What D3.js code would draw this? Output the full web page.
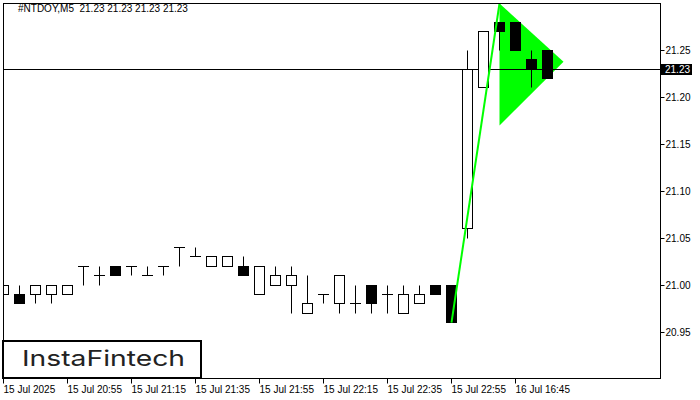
<!DOCTYPE html>
<html><head><meta charset="utf-8">
<script src="https://cdn.jsdelivr.net/npm/d3@7"></script>
<style>html,body{margin:0;padding:0;background:#fff;} svg{display:block;}</style>
</head><body>
<svg id="chart" width="700" height="400"></svg>
<script>
// ---------- data ----------
const chartTitle = "#NTDOY,M5  21.23 21.23 21.23 21.23";
const times = [
  "15 Jul 20:35","15 Jul 20:40","15 Jul 20:45","15 Jul 20:50","15 Jul 20:55","15 Jul 21:00",
  "15 Jul 21:05","15 Jul 21:10","15 Jul 21:15","15 Jul 21:20","15 Jul 21:25","15 Jul 21:30",
  "15 Jul 21:35","15 Jul 21:40","15 Jul 21:45","15 Jul 21:50","15 Jul 21:55","15 Jul 22:00",
  "15 Jul 22:05","15 Jul 22:10","15 Jul 22:15","15 Jul 22:20","15 Jul 22:25","15 Jul 22:30",
  "15 Jul 22:35","15 Jul 22:40","15 Jul 22:45","15 Jul 22:50","15 Jul 22:55","16 Jul 16:30",
  "16 Jul 16:35","16 Jul 16:40","16 Jul 16:45","16 Jul 16:50","16 Jul 16:55","16 Jul 17:00"
];
const opens  = [20.99,20.99,20.99,20.99,20.99,21.02,21.01,21.02,21.02,21.01,21.02,21.04,
                21.03,21.02,21.02,21.02,20.99,21.00,21.00,20.97,20.99,20.98,20.98,21.00,
                20.99,20.97,20.98,21.00,21.00,21.06,21.21,21.28,21.28,21.24,21.25,21.23];
const highs  = [21.00,21.00,21.00,21.00,21.00,21.02,21.02,21.02,21.02,21.02,21.02,21.04,
                21.04,21.03,21.03,21.03,21.02,21.02,21.02,21.01,20.99,21.01,21.00,21.00,
                21.00,21.00,21.00,21.00,21.00,21.25,21.27,21.28,21.28,21.25,21.25,21.23];
const lows   = [20.99,20.98,20.98,20.98,20.99,21.00,21.00,21.01,21.01,21.01,21.01,21.02,
                21.03,21.02,21.02,21.01,20.99,21.00,20.97,20.97,20.98,20.97,20.97,20.97,
                20.97,20.97,20.98,20.99,20.96,21.05,21.21,21.25,21.25,21.21,21.22,21.23];
const closes = [21.00,20.98,21.00,21.00,21.00,21.02,21.01,21.01,21.02,21.01,21.02,21.04,
                21.03,21.03,21.03,21.01,21.02,21.01,21.01,20.98,20.99,21.01,20.98,20.98,
                20.99,20.99,20.99,20.99,20.96,21.23,21.27,21.27,21.25,21.23,21.22,21.23];
const priceTicks = [20.95,21.00,21.05,21.10,21.15,21.20,21.25];
const timeTickIndex = [0,4,8,12,16,20,24,28,32];
const timeTickLabels = ["15 Jul 2025","15 Jul 20:55","15 Jul 21:15","15 Jul 21:35","15 Jul 21:55",
                        "15 Jul 22:15","15 Jul 22:35","15 Jul 22:55","16 Jul 16:45"];
const currentPrice = 21.23;
const poleBars = [28, 31];
const polePrices = [20.96, 21.30];
const pennantBars = [31, 31, 35];
const pennantPrices = [21.30, 21.17, 21.238];
const logoText = "InstaFintech";

// ---------- layout ----------
const W = 700, H = 400;
const plot = {left: 3.5, top: 3.5, right: 660.5, bottom: 378.5};
const svg = d3.select("#chart");
svg.append("rect").attr("width", W).attr("height", H).attr("fill", "#fff");

const x = d3.scaleLinear().domain([0, 41]).range([3.5, 659.5]);
const y = d3.scaleLinear().domain([20.9, 21.3]).range([379, 3.5]);
const crisp = v => Math.floor(v) + 0.5;

svg.append("clipPath").attr("id", "plotclip").append("rect")
  .attr("x", 3).attr("y", 3).attr("width", 658).attr("height", 376);

const g = svg.append("g").attr("clip-path", "url(#plotclip)");

// pennant triangle (under everything)
const tri = pennantBars.map((b, i) => [x(b), y(pennantPrices[i])]);
g.append("path").attr("d", d3.line()(tri) + "Z").attr("fill", "#00ff00");

// current price line
g.append("line").attr("x1", plot.left).attr("x2", plot.right)
  .attr("y1", crisp(y(currentPrice))).attr("y2", crisp(y(currentPrice)))
  .attr("stroke", "#000").attr("stroke-width", 1);

// candles
const bars = times.map((t, i) => ({t, i, o: opens[i], h: highs[i], l: lows[i], c: closes[i]}));
const cg = g.append("g");
bars.forEach(d => {
  const cx = x(d.i);
  const yh = crisp(y(d.h)), yl = crisp(y(d.l));
  const yTop = crisp(y(Math.max(d.o, d.c))), yBot = crisp(y(Math.min(d.o, d.c)));
  if (yl > yh) {
    cg.append("line").attr("x1", cx).attr("x2", cx).attr("y1", yh).attr("y2", yl)
      .attr("stroke", "#000").attr("stroke-width", 1);
  }
  if (yBot - yTop < 1) {
    cg.append("line").attr("x1", cx - 5.5).attr("x2", cx + 5.5).attr("y1", yTop).attr("y2", yTop)
      .attr("stroke", "#000").attr("stroke-width", 1);
  } else {
    cg.append("rect").attr("x", cx - 5).attr("y", yTop).attr("width", 10).attr("height", yBot - yTop)
      .attr("fill", d.c >= d.o ? "#fff" : "#000").attr("stroke", "#000").attr("stroke-width", 1);
  }
});

// flag pole
g.append("path")
  .attr("d", d3.line()(poleBars.map((b, i) => [x(b), y(polePrices[i])])))
  .attr("stroke", "#00ff00").attr("stroke-width", 2).attr("fill", "none");

// frame
svg.append("rect").attr("x", plot.left).attr("y", plot.top)
  .attr("width", plot.right - plot.left).attr("height", plot.bottom - plot.top)
  .attr("fill", "none").attr("stroke", "#000").attr("stroke-width", 1);

// title
svg.append("text").attr("x", 18).attr("y", 12).style("white-space", "pre")
  .attr("font-family", "Liberation Sans, Arial, sans-serif").attr("font-size", 10)
  .attr("fill", "#000").text(chartTitle);

// y axis
const yAxis = d3.axisRight(y).tickValues(priceTicks).tickFormat(d3.format(".2f"))
  .tickSize(4).tickPadding(1).offset(0);
const yg = svg.append("g").attr("transform", "translate(660.5,0)").call(yAxis);
yg.select(".domain").remove();
yg.selectAll(".tick").attr("transform", d => `translate(0,${crisp(y(d))})`);
yg.selectAll(".tick line").attr("stroke", "#000");
yg.selectAll(".tick text").attr("font-family", "Liberation Sans, Arial, sans-serif")
  .attr("font-size", 10).attr("fill", "#000");

// x axis
const xAxis = d3.axisBottom(x).tickValues(timeTickIndex)
  .tickFormat((d, i) => timeTickLabels[i]).tickSize(5).offset(0);
const xg = svg.append("g").attr("transform", `translate(0,${plot.bottom})`).call(xAxis);
xg.select(".domain").remove();
xg.selectAll(".tick line").attr("stroke", "#000");
xg.selectAll(".tick text").attr("font-family", "Liberation Sans, Arial, sans-serif")
  .attr("font-size", 10).attr("fill", "#000").attr("text-anchor", "start")
  .attr("y", 7).attr("dy", "0.71em");

// current price label
const cy = crisp(y(currentPrice));
svg.append("rect").attr("x", 661).attr("y", cy - 5.5).attr("width", 31).attr("height", 11).attr("fill", "#000");
svg.append("text").attr("x", 665).attr("y", cy).attr("dy", "0.34em")
  .attr("font-family", "Liberation Sans, Arial, sans-serif").attr("font-size", 10)
  .attr("fill", "#fff").text(d3.format(".2f")(currentPrice));

// logo
svg.append("rect").attr("x", 3).attr("y", 341).attr("width", 198).attr("height", 37)
  .attr("fill", "#fff").attr("stroke", "#000").attr("stroke-width", 2);
svg.append("text").attr("x", 22).attr("y", 366)
  .attr("font-family", "Inter, Lato, sans-serif").attr("font-weight", 400).attr("font-size", 22)
  .attr("textLength", 163).attr("lengthAdjust", "spacingAndGlyphs")
  .attr("fill", "#222").text(logoText);
</script>
</body></html>
